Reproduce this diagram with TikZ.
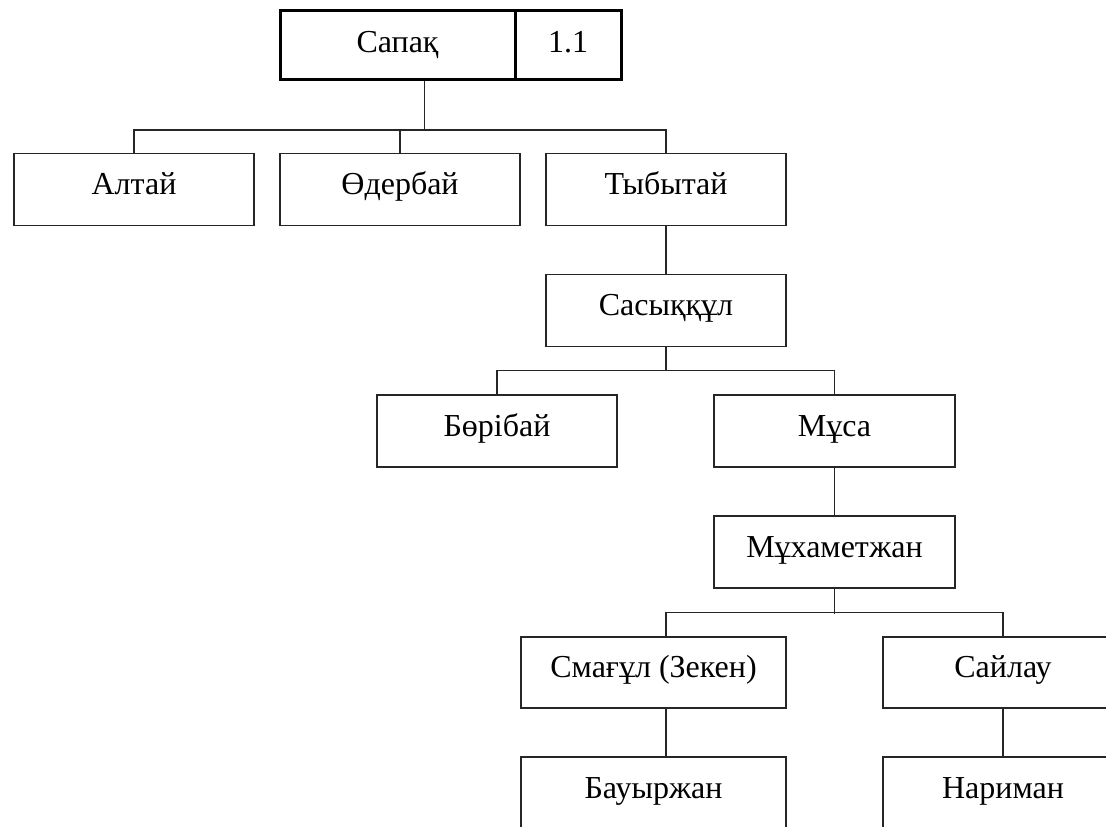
\documentclass[tikz,border=0pt]{standalone}
\usepackage{fontspec}
\setmainfont{Liberation Serif}
\begin{document}
\begin{tikzpicture}[x=1pt,y=-1pt,
  person/.style={draw=black!85, line width=1.3pt, rectangle, inner sep=0pt,
    minimum width=240pt, minimum height=72pt, text height=20pt, text depth=10pt,
    font=\fontsize{32}{38}\selectfont},
  rootbox/.style={draw=black, line width=3pt, rectangle, inner sep=0pt,
    minimum height=69pt, text height=22pt, text depth=6pt,
    font=\fontsize{32}{38}\selectfont},
  link/.style={line width=1.3pt, draw=black!85}]
\useasboundingbox (0,0) rectangle (1106,827);
\clip (0,0) rectangle (1106,827);
\fill[white] (0,0) rectangle (1106,827);

\node[rootbox, minimum width=235pt] (sapak) at (397.5,44.5) {Сапақ};
\node[rootbox, minimum width=106pt] (num) at (568,44.5) {1.1};

\node[person] (altai) at (134,189.5) {Алтай};
\node[person] (oder) at (400,189.5) {Өдербай};
\node[person] (tyb) at (666,189.5) {Тыбытай};
\node[person] (sas) at (666,310.5) {Сасыққұл};
\node[person] (bor) at (497,431) {Бөрібай};
\node[person, minimum width=241pt] (musa) at (834.5,431) {Мұса};
\node[person, minimum width=241pt] (muh) at (834.5,552) {Мұхаметжан};
\node[person, minimum width=265pt, minimum height=71pt] (smag) at (653.5,672.5) {Смағұл (Зекен)};
\node[person, minimum height=71pt] (sail) at (1003,672.5) {Сайлау};
\node[person, minimum width=265pt] (baur) at (653.5,793) {Бауыржан};
\node[person] (nar) at (1003,793) {Нариман};

\coordinate (j1) at (424.5,130);
\draw[link] (j1 |- sapak.south) -- (j1);
\draw[link] (altai.north) -- ++(0,-23) -| (tyb.north);
\draw[link] (oder.north) -- (oder.north |- j1);
\draw[link] (tyb.south) -- (sas.north);
\draw[link] (sas.south) -- ++(0,24);
\draw[link] (bor.north) -- ++(0,-24) -| (musa.north);
\draw[link] (musa.south) -- (muh.north);
\draw[link] (muh.south) -- ++(0,25);
\draw[link] ([xshift=12.5pt]smag.north) -- ++(0,-24) -| (sail.north);
\draw[link] ([xshift=12.5pt]smag.south) -- ([xshift=12.5pt]baur.north);
\draw[link] (sail.south) -- (nar.north);
\end{tikzpicture}
\end{document}
